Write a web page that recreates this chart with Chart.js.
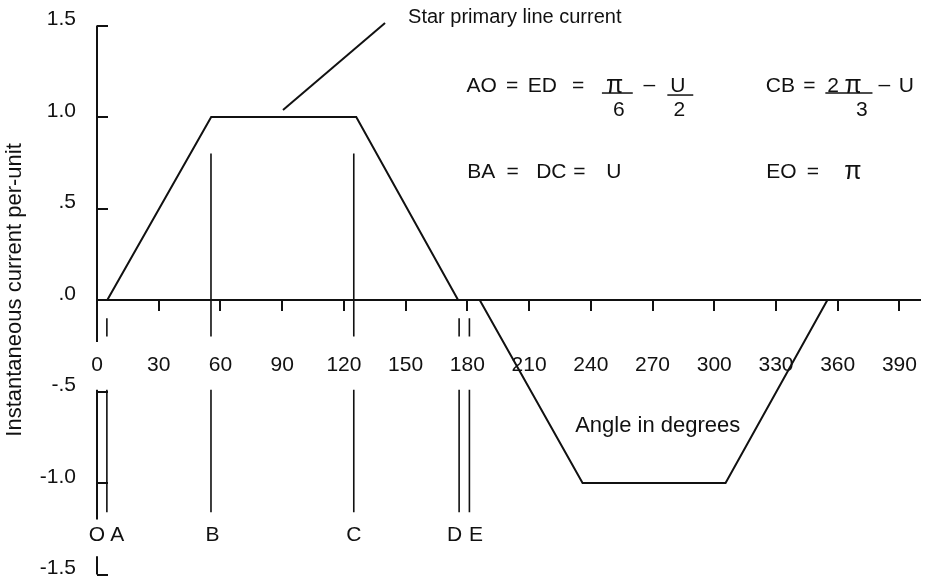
<!DOCTYPE html>
<html>
<head>
<meta charset="utf-8">
<title>Star primary line current</title>
<script src="https://cdn.jsdelivr.net/npm/chart.js"></script>
<style>
  html, body { margin: 0; padding: 0; background: #fff; }
</style>
</head>
<body>
<canvas id="lineCurrentChart" width="929" height="577"></canvas>
<script>
// Trapezoidal line current: corner angles (deg) and per-unit values
const waveAngles = [5, 55.5, 126, 175.5, 186, 236, 305.5, 355];
const waveValues = [0, 1, 1, 0, 0, -1, -1, 0];

// Reference lines O..E, each drawn as broken runs [from, to] in per-unit
const markerNames = ['O', 'A', 'B', 'C', 'D', 'E'];
const markerAngles = [0, 4.8, 55.4, 124.8, 176, 181];
const markerRuns = [
    [[1.5, -0.23], [-0.49, -1.2], [-1.4, -1.5]],
    [[-0.1, -0.2], [-0.49, -1.16]],
    [[0.8, -0.2], [-0.49, -1.16]],
    [[0.8, -0.2], [-0.49, -1.16]],
    [[-0.1, -0.2], [-0.49, -1.16]],
    [[-0.1, -0.2], [-0.49, -1.16]]
];

// Axis ticks
const xTickValues = [0, 30, 60, 90, 120, 150, 180, 210, 240, 270, 300, 330, 360, 390];
const xTickLabels = ['0', '30', '60', '90', '120', '150', '180', '210', '240', '270', '300', '330', '360', '390'];
const yTickValues = [-1.5, -1, -0.5, 0, 0.5, 1, 1.5];
const yTickLabels = ['-1.5', '-1.0', '-.5', '.0', '.5', '1.0', '1.5'];

const ink = '#111';
const face = '"Liberation Sans", Arial, Helvetica, sans-serif';

const datasets = [{
    label: 'Star primary line current',
    data: waveAngles.map((a, i) => ({ x: a, y: waveValues[i] })),
    showLine: true,
    borderColor: ink,
    borderWidth: 2,
    pointRadius: 0,
    clip: false
}];

markerAngles.forEach((a, i) => {
    const pts = [];
    markerRuns[i].forEach(r => {
        pts.push({ x: a, y: r[0] }, { x: a, y: r[1] }, { x: a, y: null });
    });
    datasets.push({
        label: markerNames[i],
        data: pts,
        showLine: true,
        spanGaps: false,
        borderColor: ink,
        borderWidth: i === 0 ? 2 : 1.6,
        pointRadius: 0,
        clip: false
    });
});

// Text, fraction bars and leader line, placed in data units
const notesPlugin = {
    id: 'notes',
    afterDraw(chart, args, opts) {
        const { ctx, scales: { x, y } } = chart;
        const px = v => x.getPixelForValue(v);
        const py = v => y.getPixelForValue(v);
        ctx.save();
        ctx.fillStyle = ink;
        ctx.strokeStyle = ink;
        ctx.textBaseline = 'middle';

        opts.texts.forEach(t => {
            ctx.font = (t.size || 21) + 'px ' + face;
            ctx.textAlign = t.align || 'center';
            ctx.fillText(t.text, px(t.x), py(t.y));
        });

        ctx.lineWidth = 1.5;
        opts.bars.forEach(b => {
            ctx.beginPath();
            ctx.moveTo(px(b.x1), py(b.y));
            ctx.lineTo(px(b.x2), py(b.y));
            ctx.stroke();
        });

        ctx.lineWidth = 2;
        ctx.beginPath();
        ctx.moveTo(px(opts.leader[0]), py(opts.leader[1]));
        ctx.lineTo(px(opts.leader[2]), py(opts.leader[3]));
        ctx.stroke();

        // letters under the reference lines
        ctx.font = '21px ' + face;
        ctx.textAlign = 'center';
        markerNames.forEach((n, i) => {
            ctx.fillText(n, px(markerAngles[i]) + opts.letterShift[i], py(-1.285));
        });

        // rotated axis title
        ctx.font = '22px ' + face;
        ctx.translate(y.left + 15, py(0.055));
        ctx.rotate(-Math.PI / 2);
        ctx.fillText('Instantaneous current per-unit', 0, 0);
        ctx.restore();
    }
};

new Chart(document.getElementById('lineCurrentChart'), {
    type: 'scatter',
    data: { datasets },
    plugins: [notesPlugin],
    options: {
        responsive: false,
        animation: false,
        layout: { padding: { top: 25.5, bottom: 2.5, left: 0, right: 9 } },
        plugins: {
            legend: { display: false },
            tooltip: { enabled: false },
            notes: {
                texts: [
                    { text: 'Star primary line current', x: 151.2, y: 1.546, align: 'left', size: 20 },
                    { text: 'Angle in degrees', x: 232.4, y: -0.689, align: 'left', size: 22 },
                    { text: 'AO', x: 187, y: 1.17 },
                    { text: '=', x: 201.8, y: 1.17 },
                    { text: 'ED', x: 216.4, y: 1.17 },
                    { text: '=', x: 233.9, y: 1.17 },
                    { text: 'π', x: 251.6, y: 1.17, size: 25 },
                    { text: '6', x: 253.6, y: 1.038 },
                    { text: '–', x: 268.4, y: 1.175 },
                    { text: 'U', x: 282.3, y: 1.17 },
                    { text: '2', x: 283, y: 1.038 },
                    { text: 'CB', x: 332.1, y: 1.17 },
                    { text: '=', x: 346.2, y: 1.17 },
                    { text: '2', x: 357.8, y: 1.17 },
                    { text: 'π', x: 367.5, y: 1.17, size: 25 },
                    { text: '3', x: 371.7, y: 1.038 },
                    { text: '–', x: 382.7, y: 1.175 },
                    { text: 'U', x: 393.4, y: 1.17 },
                    { text: 'BA', x: 186.7, y: 0.70 },
                    { text: '=', x: 202, y: 0.70 },
                    { text: 'DC', x: 220.8, y: 0.70 },
                    { text: '=', x: 234.4, y: 0.70 },
                    { text: 'U', x: 251.2, y: 0.70 },
                    { text: 'EO', x: 332.6, y: 0.70 },
                    { text: '=', x: 347.9, y: 0.70 },
                    { text: 'π', x: 367.4, y: 0.70, size: 25 }
                ],
                bars: [
                    { x1: 245.4, x2: 260.4, y: 1.131 },
                    { x1: 277.2, x2: 289.8, y: 1.12 },
                    { x1: 354, x2: 376.9, y: 1.131 }
                ],
                leader: [140, 1.514, 90.4, 1.038],
                letterShift: [0, 10.5, 1.5, 0, -4.5, 6.5]
            }
        },
        scales: {
            x: {
                type: 'linear',
                min: 0,
                max: 400,
                position: { y: 0 },
                afterBuildTicks: s => { s.ticks = xTickValues.map(v => ({ value: v })); },
                afterFit: s => { s.height = 0; s.paddingLeft = 0; s.paddingRight = 0; },
                grid: { drawOnChartArea: false, tickLength: 10, color: ink, lineWidth: 2 },
                border: { display: true, color: ink, width: 2 },
                ticks: {
                    autoSkip: false,
                    maxRotation: 0,
                    padding: 43,
                    color: ink,
                    font: { family: face, size: 21 },
                    callback: v => xTickLabels[xTickValues.indexOf(v)]
                }
            },
            y: {
                type: 'linear',
                min: -1.5,
                max: 1.5,
                position: 'left',
                afterBuildTicks: s => { s.ticks = yTickValues.map(v => ({ value: v })); },
                afterFit: s => { s.width = 97; s.paddingTop = 0; s.paddingBottom = 0; },
                grid: { drawOnChartArea: false, tickLength: -11, color: ink, lineWidth: 2 },
                border: { display: false },
                ticks: {
                    padding: 32,
                    labelOffset: -6,
                    color: ink,
                    font: { family: face, size: 21 },
                    callback: v => yTickLabels[yTickValues.indexOf(v)]
                }
            }
        }
    }
});
</script>
</body>
</html>
